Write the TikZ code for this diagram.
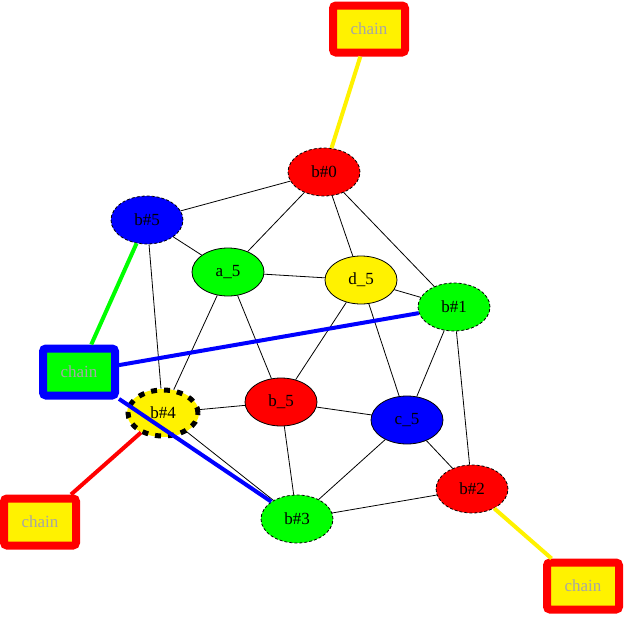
\documentclass[tikz,border=0pt]{standalone}
\usepackage{fontspec}
\setmainfont{Liberation Serif}
\usetikzlibrary{shapes.geometric}
\begin{document}
\begin{tikzpicture}[x=1pt,y=-1pt,
  nd/.style={ellipse,draw=black,line width=0.8pt,minimum width=72pt,minimum height=48pt,inner sep=0pt,font=\fontsize{17}{19}\selectfont},
  bn/.style={nd,dashed,dash pattern=on 3pt off 2pt},
  chainbox/.style={rectangle,rounded corners=3pt,line width=8pt,minimum width=72pt,minimum height=47pt,inner sep=0pt,text=gray!70,font=\fontsize{17}{19}\selectfont},
  ed/.style={draw=black,line width=0.8pt},
  ce/.style={line width=4pt}]
\useasboundingbox (0,0) rectangle (624,616);
\node[bn,fill=red] (b0) at (324,172) {b\#0};
\node[bn,fill=blue] (b5) at (147,220) {b\#5};
\node[nd,fill=green] (a5) at (228,272) {a\_5};
\node[nd,fill=yellow] (d5) at (361,280) {d\_5};
\node[bn,fill=green] (b1) at (454,307) {b\#1};
\node[nd,fill=yellow,draw=none] (b4) at (163,413) {b\#4};
\node[nd,fill=red] (b_5) at (281,402) {b\_5};
\node[nd,fill=blue] (c5) at (407,420) {c\_5};
\node[bn,fill=red] (b2) at (472,489) {b\#2};
\node[bn,fill=green] (b3) at (297,519) {b\#3};
\node[chainbox,draw=red,fill=yellow] (ct) at (369,29) {chain};
\node[chainbox,draw=blue,fill=green] (cl) at (79,372) {chain};
\node[chainbox,draw=red,fill=yellow] (cbl) at (40,522) {chain};
\node[chainbox,draw=red,fill=yellow] (cbr) at (583,586) {chain};
\draw[black,line width=5pt,dash pattern=on 6pt off 7pt] (b4.center) ellipse (35pt and 23pt);
\foreach \a/\b in {b0/b5,b0/a5,b0/d5,b0/b1,b5/a5,b5/b4,a5/d5,a5/b4,a5/b_5,d5/b1,d5/b_5,d5/c5,b1/c5,b1/b2,b4/b_5,b4/b3,b_5/c5,b_5/b3,c5/b3,c5/b2,b3/b2}
  \draw[ed] (\a) -- (\b);
\draw[ce,yellow] (ct) -- (b0);
\draw[ce,green] (cl) -- (b5);
\draw[ce,blue] (cl) -- (b1);
\draw[ce,blue] (cl) -- (b3);
\draw[ce,red] (cbl) -- (b4);
\draw[ce,yellow] (cbr) -- (b2);
\end{tikzpicture}
\end{document}
